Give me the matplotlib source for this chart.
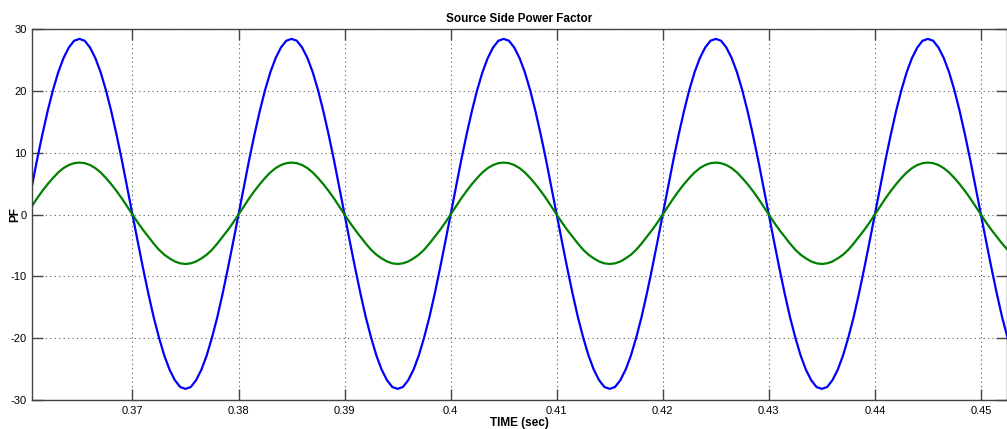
import numpy as np
import matplotlib
matplotlib.use("Agg")
from matplotlib import pyplot as plt

plt.rcParams['font.family'] = ['Liberation Sans', 'DejaVu Sans']
plt.rcParams['axes.unicode_minus'] = False

# sample times, 0.5 ms apart
time = np.arange(187) * 0.0005 + 0.36

# blue trace, one row per 20 ms cycle
pf_blue = [
    0, 4.4, 8.8, 12.9, 16.7, 20.1, 23.0, 25.3, 27.0, 28.1, 28.4, 28.1, 27.0, 25.3, 23.0, 20.1, 16.7, 12.9, 8.8, 4.4,
    0, -4.4, -8.7, -12.8, -16.6, -19.9, -22.8, -25.1, -26.8, -27.9, -28.2, -27.9, -26.8, -25.1, -22.8, -19.9, -16.6, -12.8, -8.7, -4.4,
    0, 4.4, 8.8, 12.9, 16.7, 20.1, 23.0, 25.3, 27.0, 28.1, 28.4, 28.1, 27.0, 25.3, 23.0, 20.1, 16.7, 12.9, 8.8, 4.4,
    0, -4.4, -8.7, -12.8, -16.6, -19.9, -22.8, -25.1, -26.8, -27.9, -28.2, -27.9, -26.8, -25.1, -22.8, -19.9, -16.6, -12.8, -8.7, -4.4,
    0, 4.4, 8.8, 12.9, 16.7, 20.1, 23.0, 25.3, 27.0, 28.1, 28.4, 28.1, 27.0, 25.3, 23.0, 20.1, 16.7, 12.9, 8.8, 4.4,
    0, -4.4, -8.7, -12.8, -16.6, -19.9, -22.8, -25.1, -26.8, -27.9, -28.2, -27.9, -26.8, -25.1, -22.8, -19.9, -16.6, -12.8, -8.7, -4.4,
    0, 4.4, 8.8, 12.9, 16.7, 20.1, 23.0, 25.3, 27.0, 28.1, 28.4, 28.1, 27.0, 25.3, 23.0, 20.1, 16.7, 12.9, 8.8, 4.4,
    0, -4.4, -8.7, -12.8, -16.6, -19.9, -22.8, -25.1, -26.8, -27.9, -28.2, -27.9, -26.8, -25.1, -22.8, -19.9, -16.6, -12.8, -8.7, -4.4,
    0, 4.4, 8.8, 12.9, 16.7, 20.1, 23.0, 25.3, 27.0, 28.1, 28.4, 28.1, 27.0, 25.3, 23.0, 20.1, 16.7, 12.9, 8.8, 4.4,
    0, -4.4, -8.7, -12.8, -16.6, -19.9, -22.8,
]

# green trace
pf_green = [
    0, 1.3, 2.6, 3.8, 4.9, 5.9, 6.8, 7.5, 8.0, 8.3, 8.4, 8.3, 8.0, 7.5, 6.8, 5.9, 4.9, 3.8, 2.6, 1.3,
    0, -1.3, -2.5, -3.6, -4.7, -5.7, -6.5, -7.1, -7.6, -7.9, -8.0, -7.9, -7.6, -7.1, -6.5, -5.7, -4.7, -3.6, -2.5, -1.3,
    0, 1.3, 2.6, 3.8, 4.9, 5.9, 6.8, 7.5, 8.0, 8.3, 8.4, 8.3, 8.0, 7.5, 6.8, 5.9, 4.9, 3.8, 2.6, 1.3,
    0, -1.3, -2.5, -3.6, -4.7, -5.7, -6.5, -7.1, -7.6, -7.9, -8.0, -7.9, -7.6, -7.1, -6.5, -5.7, -4.7, -3.6, -2.5, -1.3,
    0, 1.3, 2.6, 3.8, 4.9, 5.9, 6.8, 7.5, 8.0, 8.3, 8.4, 8.3, 8.0, 7.5, 6.8, 5.9, 4.9, 3.8, 2.6, 1.3,
    0, -1.3, -2.5, -3.6, -4.7, -5.7, -6.5, -7.1, -7.6, -7.9, -8.0, -7.9, -7.6, -7.1, -6.5, -5.7, -4.7, -3.6, -2.5, -1.3,
    0, 1.3, 2.6, 3.8, 4.9, 5.9, 6.8, 7.5, 8.0, 8.3, 8.4, 8.3, 8.0, 7.5, 6.8, 5.9, 4.9, 3.8, 2.6, 1.3,
    0, -1.3, -2.5, -3.6, -4.7, -5.7, -6.5, -7.1, -7.6, -7.9, -8.0, -7.9, -7.6, -7.1, -6.5, -5.7, -4.7, -3.6, -2.5, -1.3,
    0, 1.3, 2.6, 3.8, 4.9, 5.9, 6.8, 7.5, 8.0, 8.3, 8.4, 8.3, 8.0, 7.5, 6.8, 5.9, 4.9, 3.8, 2.6, 1.3,
    0, -1.3, -2.5, -3.6, -4.7, -5.7, -6.5,
]

x_ticks = [0.37, 0.38, 0.39, 0.40, 0.41, 0.42, 0.43, 0.44, 0.45]
x_labels = ["0.37", "0.38", "0.39", "0.4", "0.41", "0.42", "0.43", "0.44", "0.45"]
y_ticks = [-30, -20, -10, 0, 10, 20, 30]

fig = plt.figure(figsize=(10.07, 4.29), dpi=100)
ax = fig.add_axes([0.0318, 0.0676, 0.9682, 0.8648])

ax.plot(time, pf_blue, color="#0000ff", lw=1.6)
ax.plot(time, pf_green, color="#008000", lw=1.6)

ax.set_xlim(0.36053, 0.45246)
ax.set_ylim(-30, 30)
ax.set_xticks(x_ticks)
ax.set_xticklabels(x_labels)
ax.set_yticks(y_ticks)
ax.grid(True, linestyle=(0, (1, 3)), color="#555555", linewidth=0.8)

for s in ax.spines.values():
    s.set_color("#444444")
    s.set_linewidth(1.0)
ax.tick_params(direction="in", length=8, width=1.0, color="#444444",
               top=True, right=True, labelsize=8, pad=4)

ax.set_title("Source Side Power Factor", fontsize=8.5, fontweight="bold", pad=5)
ax.set_xlabel("TIME (sec)", fontsize=8.5, fontweight="bold", labelpad=1)
ax.set_ylabel("PF", fontsize=8.5, fontweight="bold")
ax.yaxis.set_label_coords(-0.011, 0.5)

fig.savefig("out.png", dpi=100)
